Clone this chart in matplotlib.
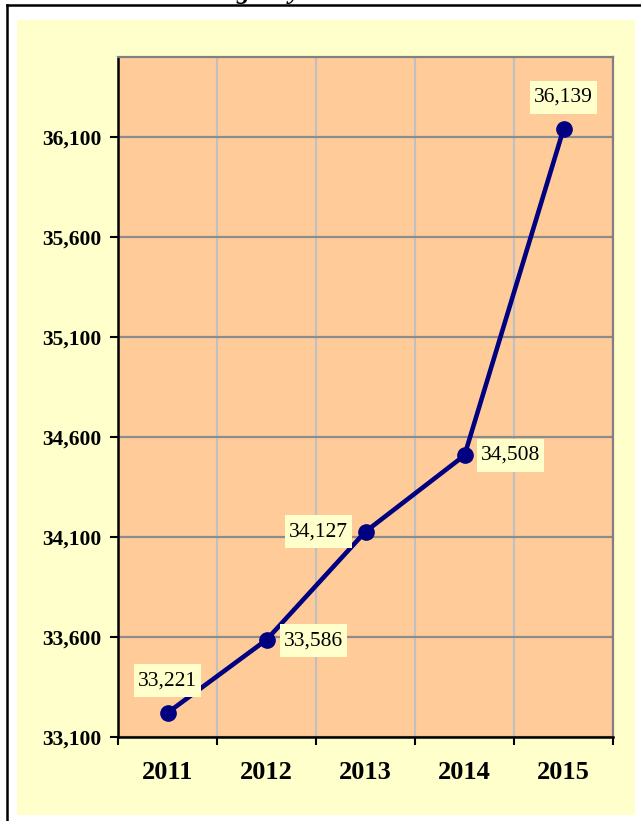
import matplotlib
matplotlib.use('Agg')
import matplotlib.pyplot as plt
from matplotlib.lines import Line2D
from matplotlib.patches import Rectangle
from matplotlib.path import Path
from matplotlib.ticker import FuncFormatter, FixedLocator

# data
years = ['2011', '2012', '2013', '2014', '2015']
values = [33221, 33586, 34127, 34508, 36139]
# label offsets in pixels (dx, dy) relative to each point
label_offsets = [(0, 32), (47, -1), (-47, 0), (46, 0), (0, 32)]
y_ticks = [33100, 33600, 34100, 34600, 35100, 35600, 36100]

W, H = 641, 821
fig = plt.figure(figsize=(W / 100, H / 100), dpi=100)
fig.patch.set_facecolor('white')

# light yellow chart area and the black frame (drawn behind the axes)
fig.patches.append(Rectangle((17 / W, 1 - 815 / H), (635 - 17) / W, (815 - 20) / H,
                             transform=fig.transFigure, facecolor='#FFFFCC',
                             edgecolor='none', zorder=-2))
fig.lines.append(Line2D([7 / W, 7 / W], [0, 1 - 5 / H], transform=fig.transFigure,
                        color='black', lw=1.8, zorder=-1))
fig.lines.append(Line2D([7 / W, 1], [1 - 5 / H, 1 - 5 / H], transform=fig.transFigure,
                        color='black', lw=1.8, zorder=-1))

# title is cut off above the image, only two descenders show
for tx, ch in [(243, 'g'), (295, 'y')]:
    fig.text(tx / W, 1 + 1 / H, ch, ha='center', va='baseline', fontsize=19,
             fontweight='bold', fontstyle='italic', family='Liberation Serif')


# label box: little side padding, more above and below
def label_box(x0, y0, width, height, mutation_size):
    px = 0.19 * mutation_size
    py = 0.33 * mutation_size
    verts = [(x0 - px, y0 - py), (x0 + width + px, y0 - py),
             (x0 + width + px, y0 + height + py), (x0 - px, y0 + height + py),
             (x0 - px, y0 - py)]
    return Path(verts, closed=True)


ax = fig.add_axes([118 / W, 1 - 737 / H, (613 - 118) / W, (737 - 57) / H])
ax.set_facecolor('#FFCC99')

x = list(range(len(years)))
ax.plot(x, values, color='#000080', lw=3.3, marker='o', markersize=11, zorder=3)

for xi, v, (dx, dy) in zip(x, values, label_offsets):
    ax.annotate(f'{v:,}', (xi, v), xytext=(dx, dy), textcoords='offset pixels',
                ha='center', va='center', fontsize=15.5, family='Liberation Serif',
                bbox=dict(boxstyle=label_box, facecolor='#FFFFCC', edgecolor='none'),
                zorder=4)

ax.set_xlim(-0.5, 4.5)
ax.set_ylim(33100, 36500)

ax.set_xticks(x)
ax.set_xticklabels(years)
ax.xaxis.set_minor_locator(FixedLocator([-0.5, 0.5, 1.5, 2.5, 3.5, 4.5]))
ax.tick_params(axis='x', which='major', length=0, pad=17)
ax.tick_params(axis='x', which='minor', length=6, width=1.5, color='black', direction='out')

ax.set_yticks(y_ticks)
ax.yaxis.set_major_formatter(FuncFormatter(lambda v, p: f'{int(v):,}'))
ax.tick_params(axis='y', length=6, width=1.5, color='black', direction='out', pad=6)

for lab in ax.get_xticklabels():
    lab.set_fontfamily('Liberation Serif')
    lab.set_fontweight('bold')
    lab.set_fontsize(19)
for lab in ax.get_yticklabels():
    lab.set_fontfamily('Liberation Serif')
    lab.set_fontweight('bold')
    lab.set_fontsize(15.5)

ax.grid(axis='y', which='major', color='#8C8C8C', lw=1.6)
ax.grid(axis='x', which='minor', color='#C0C0C0', lw=1.6)
ax.set_axisbelow(True)

ax.spines['left'].set_color('black')
ax.spines['bottom'].set_color('black')
ax.spines['left'].set_linewidth(1.8)
ax.spines['bottom'].set_linewidth(1.8)
ax.spines['top'].set_color('#808080')
ax.spines['right'].set_color('#808080')
ax.spines['top'].set_linewidth(1.6)
ax.spines['right'].set_linewidth(1.6)

fig.savefig('out.png', dpi=100)
